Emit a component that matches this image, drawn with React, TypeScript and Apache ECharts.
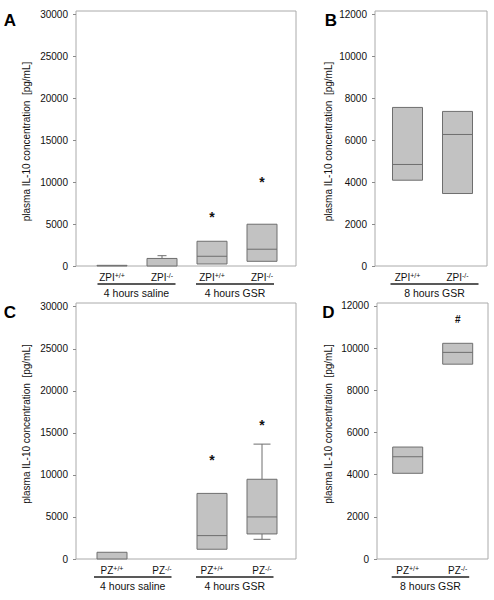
import React, { useEffect, useRef } from "react";
import * as echarts from "echarts";

const FONT = "'Liberation Sans', Arial, Helvetica, sans-serif";
const Y_NAME = "plasma IL-10 concentration  [pg/mL]";

// ---------- Panel A (ZPI, 4 h) ----------
const A_labels = ["ZPI+/+", "ZPI-/-", "ZPI+/+", "ZPI-/-"];
const A_q1 = [0, 0, 240, 560];
const A_median = [null, null, 1160, 2000];
const A_q3 = [80, 900, 2950, 4980];
const A_low = [null, null, null, null];
const A_high = [null, 1230, null, null];
const A_marks = [[2, 6250], [3, 10400]];
const A_groups = ["4 hours saline", "4 hours GSR"];
const A_groupSpans = [[-0.29, 1.27], [1.68, 3.24]];
const A_ticks = [0, 5000, 10000, 15000, 20000, 25000, 30000];

// ---------- Panel B (ZPI, 8 h) ----------
const B_labels = ["ZPI+/+", "ZPI-/-"];
const B_q1 = [4090, 3455];
const B_median = [4840, 6270];
const B_q3 = [7560, 7370];
const B_low = [null, null];
const B_high = [null, null];
const B_marks: number[][] = [];
const B_groups = ["8 hours GSR"];
const B_groupSpans = [[-0.34, 1.42]];
const B_ticks = [0, 2000, 4000, 6000, 8000, 10000, 12000];

// ---------- Panel C (PZ, 4 h) ----------
const C_labels = ["PZ+/+", "PZ-/-", "PZ+/+", "PZ-/-"];
const C_q1 = [0, null, 1160, 2980];
const C_median = [null, null, 2780, 5000];
const C_q3 = [800, null, 7800, 9480];
const C_low = [null, null, null, 2340];
const C_high = [null, null, null, 13660];
const C_marks = [[2, 12100], [3, 16260]];
const C_groups = ["4 hours saline", "4 hours GSR"];
const C_groupSpans = [[-0.36, 1.19], [1.68, 3.23]];
const C_ticks = [0, 5000, 10000, 15000, 20000, 25000, 30000];

// ---------- Panel D (PZ, 8 h) ----------
const D_labels = ["PZ+/+", "PZ-/-"];
const D_q1 = [4065, 9240];
const D_median = [4850, 9800];
const D_q3 = [5310, 10230];
const D_low = [null, null];
const D_high = [null, null];
const D_marks = [[1, 11370]];
const D_groups = ["8 hours GSR"];
const D_groupSpans = [[-0.32, 1.23]];
const D_ticks = [0, 2000, 4000, 6000, 8000, 10000, 12000];

const BOX_FILL = "#c2c2c2";
const EDGE = "#6e6e6e";
const FRAME = "#aaaaaa";
const TEXT = "#111111";

type Panel = {
  labels: string[];
  q1: (number | null)[];
  med: (number | null)[];
  q3: (number | null)[];
  low: (number | null)[];
  high: (number | null)[];
  marks: number[][];
  markText: string;
  markSize: number;
  groups: string[];
  spans: number[][];
  ticks: number[];
  yMax: number;
  xMin: number;
  xMax: number;
  cap: number;
  grid: { left: number; top: number; width: number; height: number };
  letter: string;
  letterPos: [number, number];
  namePos: [number, number];
};

const panels: Panel[] = [
  {
    labels: A_labels, q1: A_q1, med: A_median, q3: A_q3, low: A_low, high: A_high,
    marks: A_marks, markText: "*", markSize: 14, groups: A_groups, spans: A_groupSpans,
    ticks: A_ticks, yMax: 30400, xMin: -0.72, xMax: 3.68, cap: 0.09,
    grid: { left: 76, top: 11, width: 220, height: 255 },
    letter: "A", letterPos: [10, 20.5], namePos: [26.7, 141.5],
  },
  {
    labels: B_labels, q1: B_q1, med: B_median, q3: B_q3, low: B_low, high: B_high,
    marks: B_marks, markText: "*", markSize: 14, groups: B_groups, spans: B_groupSpans,
    ticks: B_ticks, yMax: 12157, xMin: -0.65, xMax: 1.59, cap: 0.09,
    grid: { left: 375, top: 11, width: 112, height: 255 },
    letter: "B", letterPos: [331, 20.5], namePos: [328.3, 141.5],
  },
  {
    labels: C_labels, q1: C_q1, med: C_median, q3: C_q3, low: C_low, high: C_high,
    marks: C_marks, markText: "*", markSize: 14, groups: C_groups, spans: C_groupSpans,
    ticks: C_ticks, yMax: 30440, xMin: -0.72, xMax: 3.68, cap: 0.17,
    grid: { left: 76, top: 303, width: 220, height: 256 },
    letter: "C", letterPos: [10, 312.5], namePos: [26.7, 424],
  },
  {
    labels: D_labels, q1: D_q1, med: D_median, q3: D_q3, low: D_low, high: D_high,
    marks: D_marks, markText: "#", markSize: 10, groups: D_groups, spans: D_groupSpans,
    ticks: D_ticks, yMax: 12142, xMin: -0.614, xMax: 1.606, cap: 0.09,
    grid: { left: 377, top: 303, width: 111, height: 256 },
    letter: "D", letterPos: [328.5, 312.5], namePos: [328.3, 424],
  },
];

function ln(x1: number, y1: number, x2: number, y2: number, color = EDGE) {
  return { type: "line", shape: { x1, y1, x2, y2 }, style: { stroke: color, lineWidth: 1 } };
}

function buildOption() {
  const grid: any[] = [];
  const xAxis: any[] = [];
  const yAxis: any[] = [];
  const series: any[] = [];
  const graphic: any[] = [];

  panels.forEach((p, gi) => {
    grid.push({
      ...p.grid,
      show: true,
      borderColor: FRAME,
      borderWidth: 1,
      backgroundColor: "transparent",
      containLabel: false,
    });
    xAxis.push({
      type: "value",
      gridIndex: gi,
      min: p.xMin,
      max: p.xMax,
      show: false,
      axisLine: { onZero: false },
    });
    yAxis.push({
      type: "value",
      gridIndex: gi,
      position: "left",
      min: 0,
      max: p.yMax,
      axisLine: { show: false, onZero: false },
      splitLine: { show: false },
      axisTick: {
        show: true,
        length: 3,
        customValues: p.ticks,
        lineStyle: { color: "#8a8a8a", width: 1 },
      },
      axisLabel: {
        customValues: p.ticks,
        fontSize: 10,
        fontFamily: FONT,
        color: TEXT,
        margin: 8,
        formatter: (v: number) => String(v),
      },
    });

    // boxes
    series.push({
      type: "custom",
      xAxisIndex: gi,
      yAxisIndex: gi,
      clip: false,
      data: p.labels.map((_, i) => [i, p.q3[i] ?? 0]),
      renderItem: (params: any, api: any) => {
        const i = params.dataIndex;
        const q1 = p.q1[i];
        const q3 = p.q3[i];
        if (q1 == null || q3 == null) return { type: "group", children: [] };
        const xl = api.coord([i - 0.3, 0])[0];
        const xr = api.coord([i + 0.3, 0])[0];
        const xc = api.coord([i, 0])[0];
        const c0 = api.coord([i - p.cap, 0])[0];
        const c1 = api.coord([i + p.cap, 0])[0];
        const y1 = api.coord([i, q1])[1];
        const y3 = api.coord([i, q3])[1];
        const children: any[] = [];
        const hi = p.high[i];
        const lo = p.low[i];
        if (hi != null) {
          const yh = api.coord([i, hi])[1];
          children.push(ln(xc, y3, xc, yh), ln(c0, yh, c1, yh));
        }
        if (lo != null) {
          const yl = api.coord([i, lo])[1];
          children.push(ln(xc, y1, xc, yl), ln(c0, yl, c1, yl));
        }
        children.push({
          type: "rect",
          shape: { x: xl, y: y3, width: xr - xl, height: Math.max(0.5, y1 - y3) },
          style: { fill: BOX_FILL, stroke: EDGE, lineWidth: 1 },
        });
        const m = p.med[i];
        if (m != null) {
          const ym = api.coord([i, m])[1];
          children.push(ln(xl, ym, xr, ym));
        }
        return { type: "group", children };
      },
    });

    // significance marks
    if (p.marks.length) {
      series.push({
        type: "custom",
        xAxisIndex: gi,
        yAxisIndex: gi,
        clip: false,
        data: p.marks,
        renderItem: (params: any, api: any) => {
          const pt = api.coord([api.value(0), api.value(1)]);
          const off = p.markText === "*" ? 0.23 * p.markSize : 0;
          return {
            type: "text",
            x: pt[0],
            y: pt[1] + off,
            style: {
              text: p.markText,
              fontSize: p.markSize,
              fontWeight: "bold",
              fontFamily: FONT,
              fill: TEXT,
              align: "center",
              verticalAlign: "middle",
              textAlign: "center",
              textVerticalAlign: "middle",
            },
          };
        },
      });
    }

    // category labels with superscripts
    series.push({
      type: "custom",
      xAxisIndex: gi,
      yAxisIndex: gi,
      clip: false,
      silent: true,
      data: p.labels.map((_, i) => [i, 0]),
      renderItem: (params: any, api: any) => {
        const i = params.dataIndex;
        const pt = api.coord([i, 0]);
        const mt = /^(.*?)([+-]\/[+-])$/.exec(p.labels[i]);
        const base = mt ? mt[1] : p.labels[i];
        const sup = mt ? mt[2] : "";
        return {
          type: "text",
          x: pt[0],
          y: pt[1] + 11.5,
          style: {
            text: `{m|${base}}{s|${sup}}`,
            rich: {
              m: { fontSize: 10, fontFamily: FONT, fill: TEXT, lineHeight: 11 },
              s: { fontSize: 7, fontFamily: FONT, fill: TEXT, lineHeight: 8, verticalAlign: "top" },
            },
            align: "center",
            verticalAlign: "middle",
            textAlign: "center",
            textVerticalAlign: "middle",
          },
        };
      },
    });

    // group underlines and labels
    series.push({
      type: "custom",
      xAxisIndex: gi,
      yAxisIndex: gi,
      clip: false,
      silent: true,
      data: p.spans.map((s) => [s[0], 0]),
      renderItem: (params: any, api: any) => {
        const k = params.dataIndex;
        const a = api.coord([p.spans[k][0], 0]);
        const b = api.coord([p.spans[k][1], 0]);
        const y = a[1] + 18;
        return {
          type: "group",
          children: [
            { type: "line", shape: { x1: a[0], y1: y, x2: b[0], y2: y }, style: { stroke: "#222", lineWidth: 1.3 } },
            {
              type: "text",
              x: (a[0] + b[0]) / 2,
              y: a[1] + 27.3,
              style: {
                text: p.groups[k],
                fontSize: 10.5,
                fontFamily: FONT,
                fill: TEXT,
                align: "center",
                verticalAlign: "middle",
                textAlign: "center",
                textVerticalAlign: "middle",
              },
            },
          ],
        };
      },
    });

    graphic.push({
      type: "text",
      x: p.letterPos[0],
      y: p.letterPos[1],
      style: {
        text: p.letter,
        fontSize: 17,
        fontWeight: "bold",
        fontFamily: FONT,
        fill: "#000",
        align: "center",
        verticalAlign: "middle",
        textAlign: "center",
        textVerticalAlign: "middle",
      },
    });
    graphic.push({
      type: "text",
      x: p.namePos[0],
      y: p.namePos[1],
      rotation: Math.PI / 2,
      style: {
        text: Y_NAME,
        fontSize: 10,
        fontFamily: FONT,
        fill: TEXT,
        align: "center",
        verticalAlign: "middle",
        textAlign: "center",
        textVerticalAlign: "middle",
      },
    });
  });

  return {
    animation: false,
    backgroundColor: "#ffffff",
    grid,
    xAxis,
    yAxis,
    series,
    graphic,
  };
}

export default function App() {
  const ref = useRef<HTMLDivElement>(null);
  useEffect(() => {
    document.body.style.margin = "0";
    const chart = echarts.init(ref.current!, null, { renderer: "svg" });
    chart.setOption(buildOption() as any);
    return () => chart.dispose();
  }, []);
  return <div ref={ref} style={{ width: 494, height: 600, background: "#fff" }} />;
}
